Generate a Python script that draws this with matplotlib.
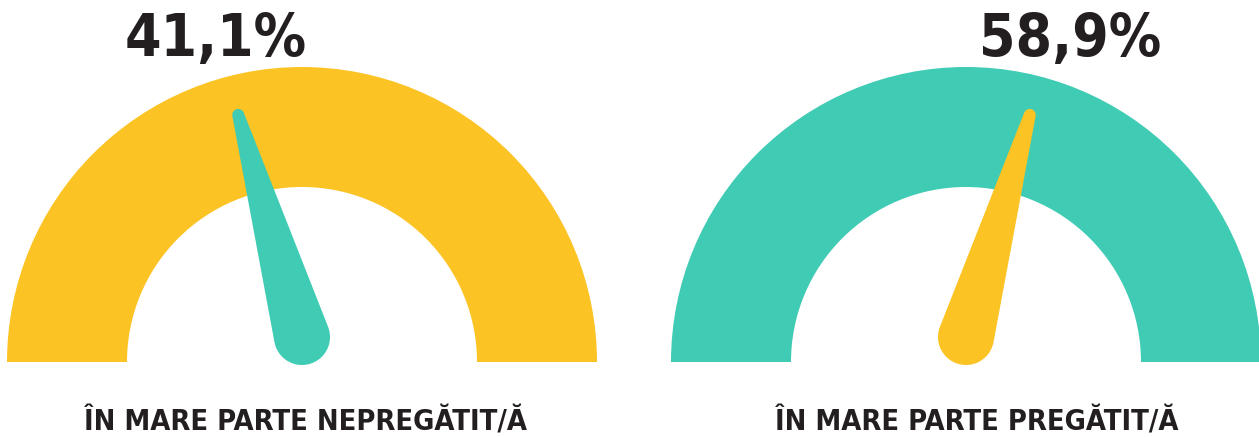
import numpy as np
import matplotlib
matplotlib.use("Agg")
import matplotlib.pyplot as plt
from matplotlib.patches import Wedge, Polygon

# ---- data ----
values = [41.1, 58.9]
value_labels = ["41,1%", "58,9%"]
categories = ["ÎN MARE PARTE NEPREGĂTIT/Ă", "ÎN MARE PARTE PREGĂTIT/Ă"]
arc_colors = ["#FCC324", "#40CBB4"]
needle_colors = ["#40CBB4", "#FCC324"]

W, H = 1259, 437
fig = plt.figure(figsize=(W / 100, H / 100), dpi=100)
ax = fig.add_axes([0, 0, 1, 1])
ax.set_xlim(0, W)
ax.set_ylim(0, H)
ax.set_aspect("equal")
ax.axis("off")

centers_x = [302, 966]
cy = H - 362
R_out, R_in = 295, 175
value_x = [216, 1070]
label_x = [306, 977]
font = ["DejaVu Sans"]


def needle(cx, cy, val, color):
    theta = np.radians(180 - val / 100 * 180)
    bx, by = cx, cy + 25
    Rb, rt, d = 28, 6, 231
    tx, ty = bx + d * np.cos(theta), by + d * np.sin(theta)
    a = np.arccos((Rb - rt) / d)
    back = np.linspace(theta + a, theta + 2 * np.pi - a, 60)
    front = np.linspace(theta - a, theta + a, 30)
    pts = [(bx + Rb * np.cos(t), by + Rb * np.sin(t)) for t in back]
    pts += [(tx + rt * np.cos(t), ty + rt * np.sin(t)) for t in front]
    ax.add_patch(Polygon(pts, closed=True, facecolor=color, edgecolor="none", zorder=3))


for i in range(2):
    cx = centers_x[i]
    ax.add_patch(Wedge((cx, cy), R_out, 0, 180, width=R_out - R_in,
                       facecolor=arc_colors[i], edgecolor="none", zorder=1))
    needle(cx, cy, values[i], needle_colors[i])
    ax.text(value_x[i], H - 39, value_labels[i], ha="center", va="center",
            fontsize=42, fontweight="bold", fontstretch="condensed",
            color="#231F20", family=font)
    ax.text(label_x[i], H - 422, categories[i], ha="center", va="center",
            fontsize=20.8, fontweight="bold", fontstretch="condensed",
            color="#231F20", family=font)

fig.savefig("out.png", dpi=100)
